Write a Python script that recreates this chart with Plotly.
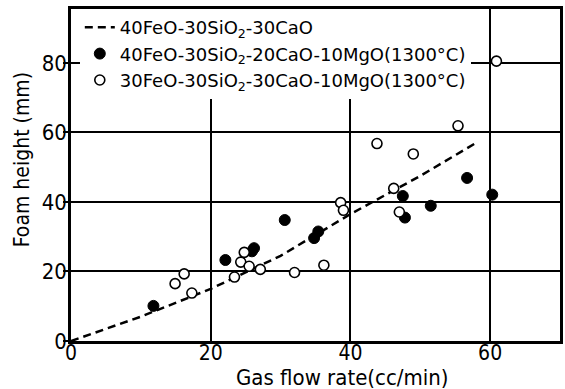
import plotly.graph_objects as go

# Dashed curve: 40FeO-30SiO2-30CaO
curve_x = [0, 10, 20, 30, 40, 50, 58]
curve_y = [0, 7, 15, 24.5, 36.5, 47.5, 57]

# Filled circles: 40FeO-30SiO2-20CaO-10MgO (1300°C)
filled_x = [11.8, 22.1, 25.9, 26.2, 30.6, 34.8, 35.4, 47.5, 47.8, 51.5, 56.7, 60.3]
filled_y = [10.1, 23.3, 25.8, 26.7, 34.8, 29.6, 31.5, 41.7, 35.5, 38.9, 46.9, 42.1]

# Open circles: 30FeO-30SiO2-30CaO-10MgO (1300°C)
open_x = [14.9, 16.2, 17.3, 23.4, 24.3, 24.8, 25.5, 27.1, 32.0, 36.2, 38.6, 39.0,
          43.8, 46.2, 47.0, 49.0, 55.4, 60.9]
open_y = [16.5, 19.3, 13.8, 18.4, 22.7, 25.5, 21.5, 20.6, 19.7, 21.8, 39.8, 37.6,
          56.8, 43.9, 37.1, 53.8, 61.9, 80.5]

x_ticks = [0, 20, 40, 60]
y_ticks = [0, 20, 40, 60, 80]

x_title = "Gas flow rate(cc/min)"
y_title = "Foam height (mm)"

FONT = "DejaVu Sans Condensed, Liberation Sans Narrow, DejaVu Sans, sans-serif"
LFONT = "DejaVu Sans, sans-serif"

fig = go.Figure()
fig.add_trace(go.Scatter(
    x=curve_x, y=curve_y, mode="lines",
    line=dict(color="black", width=2.5, dash="8px,5px"),
    name="40FeO-30SiO<sub>2</sub>-30CaO"))
fig.add_trace(go.Scatter(
    x=filled_x, y=filled_y, mode="markers",
    marker=dict(size=11, color="black", line=dict(color="black", width=1)),
    name="40FeO-30SiO<sub>2</sub>-20CaO-10MgO(1300°C)"))
fig.add_trace(go.Scatter(
    x=open_x, y=open_y, mode="markers",
    marker=dict(size=10, color="white", line=dict(color="black", width=1.6)),
    name="30FeO-30SiO<sub>2</sub>-30CaO-10MgO(1300°C)"))

axis_common = dict(
    showline=True, linecolor="black", linewidth=2.5, mirror=True,
    showgrid=True, gridcolor="black", gridwidth=1.5,
    zeroline=False,
)

fig.update_xaxes(range=[0, 70], tickvals=x_ticks, ticks="",
                 ticklabelstandoff=-9,
                 tickfont=dict(family=FONT, size=21, color="black"),
                 **axis_common)
fig.update_yaxes(range=[0, 95.5], tickvals=y_ticks, ticks="outside", ticklen=5,
                 tickwidth=1.5, tickcolor="black", ticklabelstandoff=-8,
                 tickfont=dict(family=FONT, size=22, color="black"),
                 **axis_common)

fig.add_annotation(text=x_title, xref="paper", yref="paper",
                   x=(344 - 71) / 492, y=-(377 - 341) / 332,
                   xanchor="center", yanchor="middle", showarrow=False,
                   font=dict(family=FONT, size=22, color="black"))
fig.add_annotation(text=y_title, xref="paper", yref="paper",
                   x=(22 - 71) / 492, y=(341 - 160) / 332, textangle=-90,
                   xanchor="center", yanchor="middle", showarrow=False,
                   font=dict(family=FONT, size=21, color="black"))

fig.update_layout(
    width=565, height=389,
    margin=dict(l=71, r=2, t=9, b=48),
    paper_bgcolor="white", plot_bgcolor="white",
    showlegend=True,
    legend=dict(x=0.018, y=1, xanchor="left", yanchor="top",
                bgcolor="white", borderwidth=0,
                font=dict(family=LFONT, size=18, color="black"),
                tracegroupgap=0, itemwidth=30),
    font=dict(family=FONT, color="black"),
)

fig.write_html("out.html")
